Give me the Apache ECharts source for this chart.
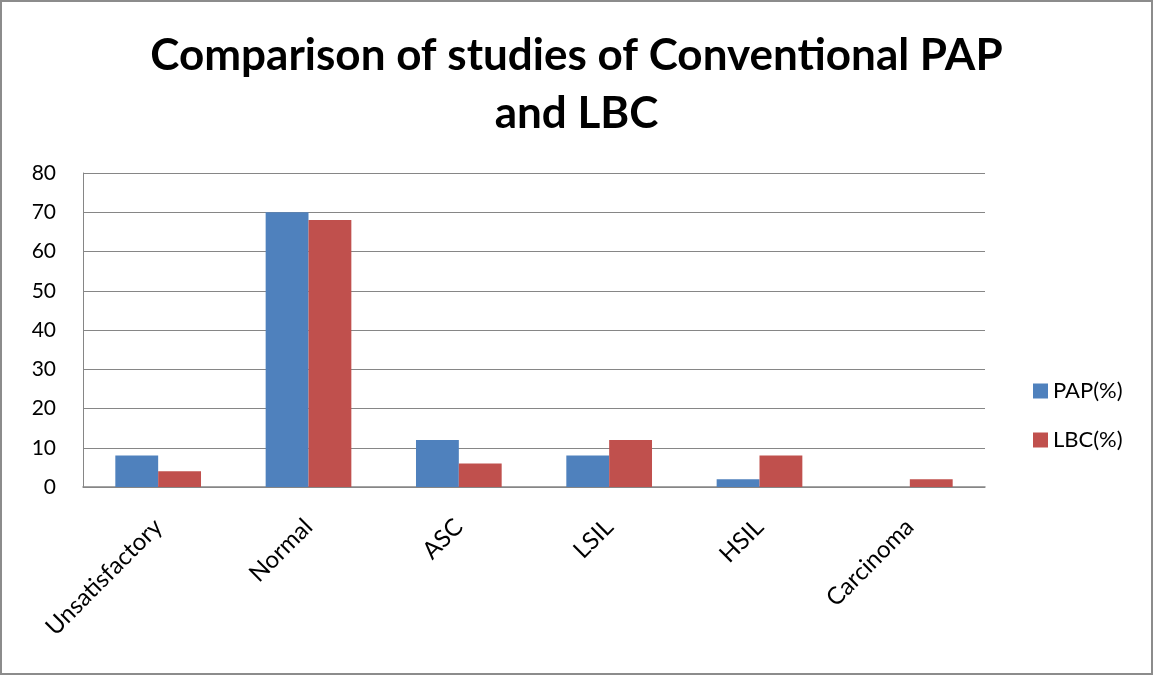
<!DOCTYPE html>
<html>
<head>
<meta charset="utf-8">
<script src="https://cdn.jsdelivr.net/npm/echarts@6/dist/echarts.min.js"></script>
<style>
  html, body { margin: 0; padding: 0; background: #fff; }
  #main { width: 1149px; height: 671px; border: 2px solid #8c8c8c; }
</style>
</head>
<body>
<div id="main"></div>
<script>
var categories = ['Unsatisfactory', 'Normal', 'ASC', 'LSIL', 'HSIL', 'Carcinoma'];
var papValues = [8, 70, 12, 8, 2, 0];
var lbcValues = [4, 68, 6, 12, 8, 2];

var myChart = echarts.init(document.getElementById('main'));

var font = 'Lato, "Open Sans", sans-serif';

var option = {
  animation: false,
  textStyle: { fontFamily: font },
  title: {
    text: 'Comparison of studies of Conventional PAP\nand LBC',
    left: 'center',
    top: 20,
    textStyle: { fontSize: 44, fontWeight: 'bold', color: '#000', lineHeight: 58, fontFamily: font }
  },
  legend: {
    orient: 'vertical',
    left: 1026,
    top: 373,
    itemWidth: 15,
    itemHeight: 15,
    itemGap: 27,
    icon: 'rect',
    textStyle: { fontSize: 22, color: '#000', fontFamily: font },
    data: ['PAP(%)', 'LBC(%)']
  },
  grid: { left: 81, right: 166, top: 171, bottom: 186 },
  xAxis: {
    type: 'category',
    data: categories,
    axisLine: { lineStyle: { color: '#868686', width: 1.5 } },
    axisTick: { show: false },
    axisLabel: { rotate: 45, fontSize: 24, color: '#000', margin: 36, fontFamily: font }
  },
  yAxis: {
    type: 'value',
    min: 0,
    max: 80,
    interval: 10,
    axisLine: { show: true, lineStyle: { color: '#868686', width: 1 } },
    axisTick: { show: false },
    splitLine: { lineStyle: { color: '#868686', width: 1 } },
    axisLabel: { fontSize: 21, color: '#000', margin: 27, fontFamily: font }
  },
  series: [
    {
      name: 'PAP(%)',
      type: 'bar',
      data: papValues,
      barGap: '0%',
      barCategoryGap: '43%',
      itemStyle: { color: '#4f81bd' }
    },
    {
      name: 'LBC(%)',
      type: 'bar',
      data: lbcValues,
      itemStyle: { color: '#c0504d' }
    }
  ]
};

myChart.setOption(option);
</script>
</body>
</html>
